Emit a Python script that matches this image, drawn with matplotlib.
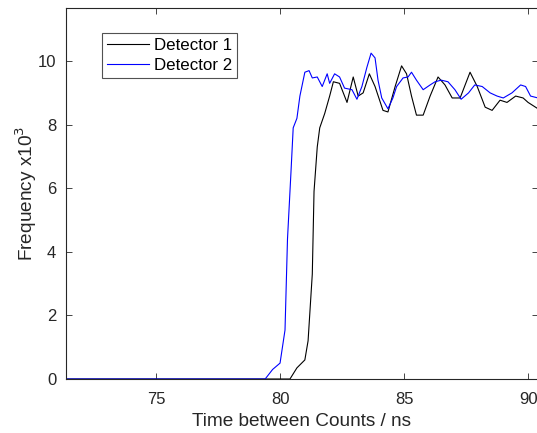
import matplotlib
matplotlib.use("Agg")
import matplotlib.pyplot as plt

plt.rcParams['font.family'] = ['Liberation Sans', 'DejaVu Sans']

# Detector 1 (black)
t1 = [71.37, 80.4, 80.68, 81.0, 81.13, 81.3, 81.37, 81.5, 81.6, 81.8, 82.0, 82.15, 82.4,
      82.7, 82.95, 83.15, 83.35, 83.6, 83.83, 84.15, 84.35, 84.64, 84.9, 85.1, 85.3,
      85.5, 85.77, 86.05, 86.37, 86.65, 86.94, 87.26, 87.66, 87.95, 88.27, 88.55,
      88.87, 89.15, 89.5, 89.8, 90.0, 90.4]
f1 = [0.0, 0.0, 0.35, 0.6, 1.2, 3.3, 5.9, 7.3, 7.9, 8.35, 8.9, 9.35, 9.3,
      8.7, 9.5, 8.9, 9.0, 9.6, 9.2, 8.45, 8.4, 9.2, 9.85, 9.6, 8.9,
      8.3, 8.3, 8.9, 9.5, 9.25, 8.84, 8.84, 9.65, 9.2, 8.55, 8.45,
      8.77, 8.7, 8.9, 8.84, 8.7, 8.5]

# Detector 2 (blue)
t2 = [71.37, 79.4, 79.7, 80.0, 80.2, 80.3, 80.44, 80.53, 80.68, 80.8, 81.0, 81.17, 81.3, 81.5,
      81.7, 81.9, 82.0, 82.2, 82.4, 82.6, 82.9, 83.1, 83.3, 83.5, 83.67, 83.83,
      83.95, 84.1, 84.35, 84.55, 84.7, 84.96, 85.16, 85.3, 85.5, 85.77, 86.05,
      86.25, 86.5, 86.77, 87.05, 87.3, 87.6, 87.85, 88.15, 88.47, 88.75, 89.0,
      89.35, 89.7, 89.9, 90.1, 90.4]
f2 = [0.0, 0.0, 0.3, 0.5, 1.54, 4.4, 6.5, 7.9, 8.2, 8.9, 9.65, 9.7, 9.47, 9.5,
      9.2, 9.6, 9.3, 9.6, 9.5, 9.15, 9.1, 8.8, 9.2, 9.8, 10.25, 10.1,
      9.4, 8.84, 8.5, 8.84, 9.2, 9.47, 9.5, 9.65, 9.4, 9.1, 9.25,
      9.35, 9.4, 9.35, 9.1, 8.8, 9.0, 9.25, 9.2, 9.0, 8.9, 8.84,
      9.0, 9.25, 9.2, 8.9, 8.84]

xticks = [75, 80, 85, 90]
yticks = [0, 2, 4, 6, 8, 10]

fig = plt.figure(figsize=(5.37, 4.33), dpi=100)
ax = fig.add_axes([66/537, 1-379/433, 472/537, 371/433])
ax.plot(t1, f1, color='black', lw=0.8, label='Detector 1')
ax.plot(t2, f2, color='blue', lw=0.8, label='Detector 2')
ax.set_xlim(71.37, 90.4)
ax.set_ylim(0, 11.67)
ax.set_xticks(xticks)
ax.set_yticks(yticks)
gray = '#262626'
ax.tick_params(direction='in', top=True, right=True, length=4, width=0.6,
               labelsize=12, colors=gray, labelcolor=gray)
ax.tick_params(axis='x', pad=9)
ax.tick_params(axis='y', pad=7)
for s in ax.spines.values():
    s.set_color(gray)
    s.set_linewidth(0.8)
ax.set_xlabel('Time between Counts / ns', fontsize=13.7, color=gray, labelpad=5)
ax.set_ylabel('Frequency x10$^3$', fontsize=13.7, color=gray, labelpad=-1)
leg = ax.legend(loc='upper left', bbox_to_anchor=(102/537, 1-33/433),
                bbox_transform=fig.transFigure, fontsize=12.2, frameon=True,
                fancybox=False, edgecolor=gray, borderpad=0.3, labelspacing=0.3,
                handlelength=2.5, handletextpad=0.25, borderaxespad=0)
leg.get_frame().set_linewidth(0.8)
fig.savefig('out.png', dpi=100)
